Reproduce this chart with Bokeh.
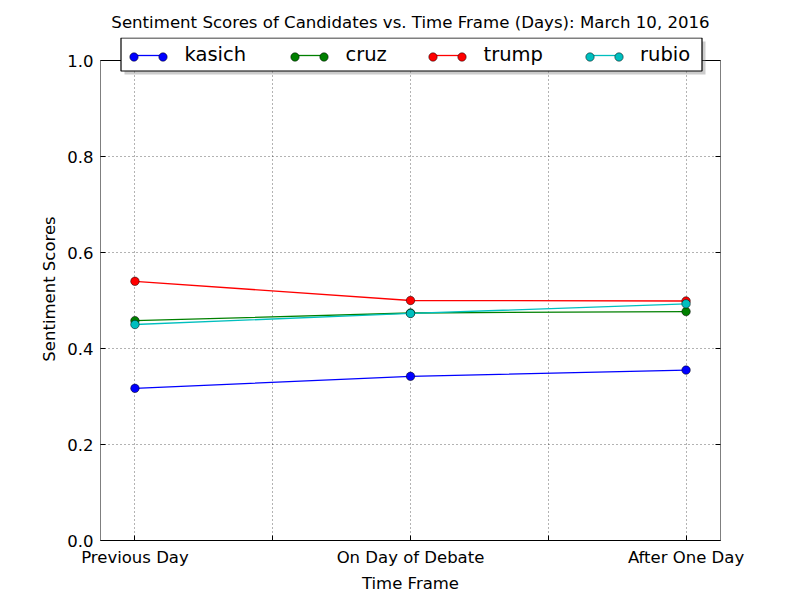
import math
from bokeh.plotting import figure
from bokeh.models import (FixedTicker, LinearAxis, Legend, LegendItem, BoxAnnotation,
                          PrintfTickFormatter, Range1d)
from bokeh.embed import file_html
from bokeh.resources import INLINE

categories = ["Previous Day", "On Day of Debate", "After One Day"]
x_pos = [0, 1, 2]
kasich = [0.317, 0.342, 0.355]
cruz = [0.458, 0.474, 0.477]
trump = [0.540, 0.500, 0.499]
rubio = [0.450, 0.473, 0.493]
series = [("kasich", kasich, "#0000ff"), ("cruz", cruz, "#008000"),
          ("trump", trump, "#ff0000"), ("rubio", rubio, "#00bfbf")]
y_ticks = [0.0, 0.2, 0.4, 0.6, 0.8, 1.0]
x_ticks = [0, 0.5, 1, 1.5, 2]
Y_MIN, Y_MAX = 0.0, 1.0
X_MIN, X_MAX = -0.125, 2.125

FONT = "DejaVu Sans"
FS = "16.5px"
LEG_FS = "19.5px"

# frame extends 23px above y=1.0 so that the legend (which overlaps the top edge) is not clipped
frame_top_extra = 23 / 480.0

p = figure(width=800, height=600, output_backend="svg", toolbar_location=None,
           x_range=Range1d(X_MIN, X_MAX), y_range=Range1d(Y_MIN, Y_MAX + frame_top_extra),
           min_border_left=100, min_border_right=80, min_border_top=37, min_border_bottom=60,
           x_axis_label="Time Frame", y_axis_label="Sentiment Scores")

p.title.text = "Sentiment Scores of Candidates vs. Time Frame (Days): March 10, 2016"
p.title.text_font = FONT
p.title.text_font_size = "16.6px"
p.title.text_font_style = "normal"
p.title.text_color = "black"
p.title.align = "center"
p.title.standoff = 11
p.title.offset = -10

p.outline_line_color = None
p.background_fill_color = "white"
p.border_fill_color = "white"

overrides = {0: categories[0], 0.5: "", 1: categories[1], 1.5: "", 2: categories[2]}

for ax in p.xaxis:
    ax.ticker = FixedTicker(ticks=x_ticks)
    ax.major_label_overrides = overrides
for ax in p.yaxis:
    ax.ticker = FixedTicker(ticks=y_ticks)
    ax.formatter = PrintfTickFormatter(format="%.1f")

right_ax = LinearAxis(ticker=FixedTicker(ticks=y_ticks), major_label_text_color=None,
                      major_label_text_font_size="0px")
p.add_layout(right_ax, "right")

for ax in list(p.xaxis) + list(p.yaxis):
    ax.major_tick_in = 5
    ax.major_tick_out = 0
    ax.minor_tick_line_color = None
    ax.major_tick_line_color = "black"
    ax.major_label_text_font = FONT
    ax.axis_label_text_font = FONT
    ax.axis_label_text_font_size = FS
    ax.axis_label_text_font_style = "normal"
    ax.axis_label_text_color = "black"
    ax.major_label_standoff = 7
    if ax is not right_ax:
        ax.major_label_text_font_size = FS
        ax.major_label_text_color = "black"

p.xaxis[0].axis_line_color = "black"
p.yaxis[0].axis_line_color = None
right_ax.axis_line_color = None
p.xaxis[0].axis_label_standoff = 4
p.yaxis[0].axis_label_standoff = 5

p.grid.grid_line_color = "black"
p.grid.grid_line_dash = "1 3"
p.grid.grid_line_width = 0.6
p.xgrid.ticker = FixedTicker(ticks=x_ticks)
p.ygrid.ticker = FixedTicker(ticks=y_ticks)

# axes box (0..1 in y) and top ticks pointing inward
box = BoxAnnotation(left=X_MIN, right=X_MAX, bottom=Y_MIN, top=Y_MAX,
                    fill_color=None, line_color="black", line_alpha=1.0, line_width=1)
p.add_layout(box)
p.ray(x=x_ticks, y=[Y_MAX] * len(x_ticks), length=5, length_units="screen",
      angle=-math.pi / 2, line_color="black", line_width=1)

line_rs, dot_rs = [], []
for name, vals, col in series:
    l = p.line(x_pos, vals, line_color=col, line_width=1.3)
    s = p.scatter(x_pos, vals, size=8.5, fill_color=col, line_color="black", line_width=0.5)
    line_rs.append(l)
    dot_rs.append(s)

# legend frame with shadow (canvas pixels)
shadow = BoxAnnotation(left=124, right=705, top=41, bottom=74,
                       left_units="canvas", right_units="canvas",
                       top_units="canvas", bottom_units="canvas",
                       fill_color="#808080", fill_alpha=0.4, line_color=None)
p.add_layout(shadow)
leg_box = BoxAnnotation(left=120.5, right=701.5, top=37.5, bottom=70.5,
                        left_units="canvas", right_units="canvas",
                        top_units="canvas", bottom_units="canvas",
                        fill_color="white", fill_alpha=1.0,
                        line_color="black", line_alpha=1.0, line_width=1.2)
p.add_layout(leg_box)

# per-entry legends (left marker centre offsets from frame left, in px)
entry_x = [33.5, 194.5, 332.5, 489.0]
LEG_VY = 474
SAMPLE_W = 29
MK = 21  # marker legend cell: Bokeh draws legend markers at 0.4 * cell size
for (name, vals, col), l, s, ex in zip(series, line_rs, dot_rs, entry_x):
    lg = Legend(items=[LegendItem(label=name, renderers=[l])], location=(ex, LEG_VY),
                orientation="horizontal",
                label_text_font=FONT, label_text_font_size=LEG_FS, label_text_color="black",
                glyph_width=SAMPLE_W, glyph_height=20, label_height=20, label_standoff=22,
                padding=0, margin=0, border_line_color=None,
                background_fill_alpha=0.0)
    p.add_layout(lg, "center")
    for dx in (0, SAMPLE_W):
        mg = Legend(items=[LegendItem(label="", renderers=[s])],
                    location=(ex + dx - MK / 2, LEG_VY - 0.5),
                    label_text_font_size="1px", glyph_width=MK, glyph_height=MK,
                    label_height=MK, label_standoff=0, label_width=0,
                    padding=0, margin=0, border_line_color=None,
                    background_fill_alpha=0.0)
        p.add_layout(mg, "center")

open("out.html", "w").write(file_html(p, INLINE))
